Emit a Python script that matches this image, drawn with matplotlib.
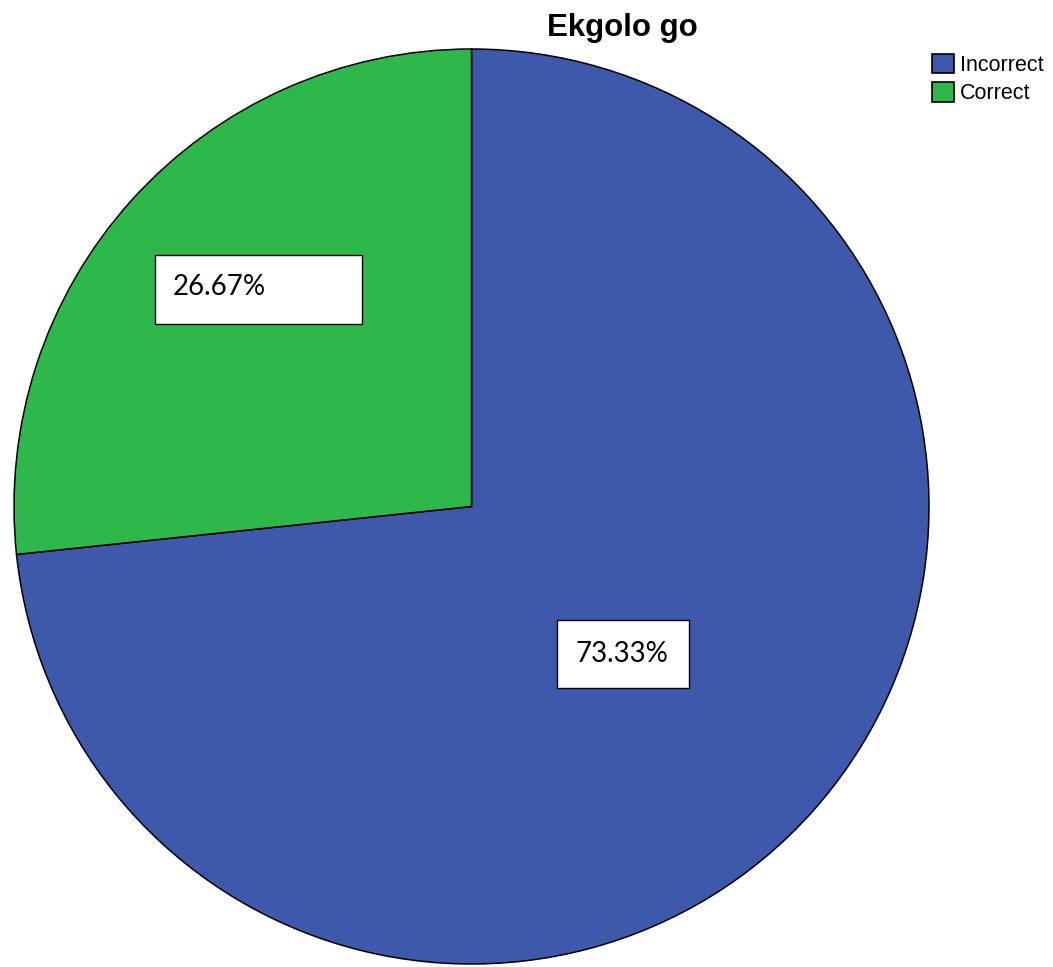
import matplotlib.pyplot as plt
from matplotlib.patches import Rectangle, Patch

# pie data
categories = ['Incorrect', 'Correct']
shares = [73.33, 26.67]
colours = ['#3E58AB', '#2EB84B']

W, H = 1053, 967
fig = plt.figure(figsize=(W / 100, H / 100), dpi=100)
ax = fig.add_axes([0, 0, 1, 1])

# pixel-based layout, y measured from top
cx, cy, r = 471.5, 506.5, 457.5

wedges, _ = ax.pie(shares, colors=colours, startangle=90, counterclock=False,
                   center=(cx, H - cy), radius=r, frame=True,
                   wedgeprops=dict(edgecolor='black', linewidth=1.1))
ax.set_xlim(0, W)
ax.set_ylim(0, H)
ax.set_aspect('auto')
ax.axis('off')

# value boxes (left, top, right, bottom) and text centre
boxes = [(557, 620, 689, 688), (155, 255, 362, 324)]
text_pos = [(622, 654), (219, 287)]
for share, (x0, y0, x1, y1), (tx, ty) in zip(shares, boxes, text_pos):
    ax.add_patch(Rectangle((x0, H - y1), x1 - x0, y1 - y0, facecolor='white',
                           edgecolor='black', linewidth=1.0, zorder=5))
    ax.text(tx, H - ty, '%.2f%%' % share, ha='center', va='center',
            fontsize=20, family='Lato', zorder=6)

ax.text(622, H - 36, 'Ekgolo go', ha='center', va='baseline',
        fontsize=22.5, fontweight='bold', family='Liberation Sans')

handles = [Patch(facecolor=c, edgecolor='black', linewidth=1.2) for c in colours]
leg = fig.legend(handles, categories, loc='upper left',
                 bbox_to_anchor=(932 / W, 1 - 54 / H), frameon=False,
                 prop={'family': 'Liberation Sans', 'size': 15.5},
                 handlelength=1.0, handleheight=1.0, handletextpad=0.3,
                 labelspacing=0.3, borderpad=0, borderaxespad=0)

fig.savefig('out.png', dpi=100)
